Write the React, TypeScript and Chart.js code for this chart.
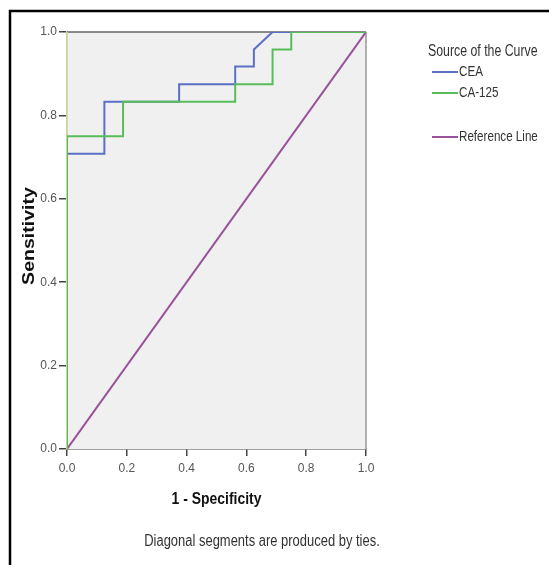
import React, { useEffect, useRef } from "react";
import { Chart, registerables } from "chart.js";

Chart.register(...registerables);

// ROC curve corner points (1 - Specificity, Sensitivity)
const ceaFpr = [0, 0, 0.125, 0.125, 0.375, 0.375, 0.5625, 0.5625, 0.625, 0.625, 0.6875, 1];
const ceaTpr = [0, 0.708, 0.708, 0.833, 0.833, 0.875, 0.875, 0.917, 0.917, 0.958, 1, 1];
const ca125Fpr = [0, 0, 0.1875, 0.1875, 0.5625, 0.5625, 0.6875, 0.6875, 0.75, 0.75, 1];
const ca125Tpr = [0, 0.75, 0.75, 0.833, 0.833, 0.875, 0.875, 0.958, 0.958, 1, 1];
const refFpr = [0, 1];
const refTpr = [0, 1];

const seriesLabels = ["CEA", "CA-125", "Reference Line"];
const legendTitle = "Source of the Curve";
const xTitle = "1 - Specificity";
const yTitle = "Sensitivity";
const footnote = "Diagonal segments are produced by ties.";

const SANS = "'Liberation Sans', Arial, sans-serif";

const toPts = (xs: number[], ys: number[]) => xs.map((x, i) => ({ x, y: ys[i] }));

function drawText(
  ctx: CanvasRenderingContext2D,
  text: string,
  x: number,
  y: number,
  font: string,
  color: string,
  align: CanvasTextAlign,
  sx: number,
  rot = 0
) {
  ctx.save();
  ctx.translate(x, y);
  if (rot) ctx.rotate(rot);
  ctx.scale(sx, 1);
  ctx.font = font;
  ctx.fillStyle = color;
  ctx.textAlign = align;
  ctx.textBaseline = "middle";
  ctx.fillText(text, 0, 0);
  ctx.restore();
}

const decorPlugin = {
  id: "decor",
  beforeDatasetsDraw(chart: any) {
    const { ctx, chartArea: a } = chart;
    ctx.save();
    ctx.fillStyle = "#f0f0f0";
    ctx.fillRect(a.left, a.top, a.right - a.left, a.bottom - a.top);
    ctx.lineWidth = 1.5;
    ctx.strokeStyle = "#666";
    ctx.beginPath();
    ctx.moveTo(a.left, a.top);
    ctx.lineTo(a.right, a.top);
    ctx.stroke();
    ctx.strokeStyle = "#999";
    ctx.beginPath();
    ctx.moveTo(a.right, a.top);
    ctx.lineTo(a.right, a.bottom);
    ctx.stroke();
    ctx.strokeStyle = "#c8d49a";
    ctx.beginPath();
    ctx.moveTo(a.left, a.top);
    ctx.lineTo(a.left, a.bottom);
    ctx.stroke();
    ctx.restore();
  },
  afterDraw(chart: any) {
    const { ctx, chartArea: a } = chart;
    ctx.save();
    // outer frame
    ctx.strokeStyle = "#000";
    ctx.lineWidth = 2.5;
    ctx.beginPath();
    ctx.moveTo(10, 565);
    ctx.lineTo(10, 11);
    ctx.lineTo(549, 11);
    ctx.stroke();
    ctx.restore();

    // axis titles
    drawText(ctx, xTitle, (a.left + a.right) / 2, 499, `bold 17px ${SANS}`, "#111", "center", 0.82);
    drawText(ctx, yTitle, 29, 236, `bold 17px ${SANS}`, "#111", "center", 1.15, -Math.PI / 2);

    // legend
    drawText(ctx, legendTitle, 428, 52, `16px ${SANS}`, "#333", "left", 0.77);
    const ys = [72, 93, 137];
    chart.data.datasets.forEach((ds: any, i: number) => {
      const y = ys[i];
      ctx.save();
      ctx.strokeStyle = ds.borderColor;
      ctx.lineWidth = 2;
      ctx.beginPath();
      ctx.moveTo(432, y);
      ctx.lineTo(458, y);
      ctx.stroke();
      ctx.restore();
      drawText(ctx, ds.label, 459, y, `14px ${SANS}`, "#333", "left", 0.83);
    });

    // footnote
    drawText(ctx, footnote, 262, 542, `16px ${SANS}`, "#333", "center", 0.81);
  },
};

export default function App() {
  const ref = useRef<HTMLCanvasElement | null>(null);
  useEffect(() => {
    if (!ref.current) return;
    const chart = new Chart(ref.current, {
      type: "line",
      data: {
        datasets: [
          {
            label: seriesLabels[0],
            data: toPts(ceaFpr, ceaTpr),
            borderColor: "#5b70c4",
            borderWidth: 2,
            pointRadius: 0,
            fill: false,
            tension: 0,
            order: 1,
          },
          {
            label: seriesLabels[1],
            data: toPts(ca125Fpr, ca125Tpr),
            borderColor: "#58bd58",
            borderWidth: 2,
            pointRadius: 0,
            fill: false,
            tension: 0,
            order: 0,
          },
          {
            label: seriesLabels[2],
            data: toPts(refFpr, refTpr),
            borderColor: "#9a519c",
            borderWidth: 2,
            pointRadius: 0,
            fill: false,
            tension: 0,
            order: 2,
          },
        ],
      },
      options: {
        responsive: false,
        animation: false,
        events: [],
        layout: { padding: { top: 32, right: 183, left: 0, bottom: 0 } },
        plugins: { legend: { display: false }, tooltip: { enabled: false } },
        scales: {
          x: {
            type: "linear",
            min: 0,
            max: 1,
            afterFit: (s: any) => {
              s.height = 116;
            },
            ticks: {
              stepSize: 0.2,
              callback: (v: any) => Number(v).toFixed(1),
              font: { family: SANS, size: 12 },
              color: "#555",
              padding: 5,
              maxRotation: 0,
            },
            grid: { drawOnChartArea: false, drawTicks: true, tickLength: 7, color: "#444", lineWidth: 1.5 },
            border: { display: true, color: "#444", width: 1.5 },
            title: { display: false, text: xTitle },
          },
          y: {
            type: "linear",
            min: 0,
            max: 1,
            afterFit: (s: any) => {
              s.width = 67;
            },
            ticks: {
              stepSize: 0.2,
              callback: (v: any) => Number(v).toFixed(1),
              font: { family: SANS, size: 12 },
              color: "#555",
              padding: 2,
            },
            grid: { drawOnChartArea: false, drawTicks: true, tickLength: 8, color: "#444", lineWidth: 1.5 },
            border: { display: true, color: "#c8d49a", width: 1.5 },
            title: { display: false, text: yTitle },
          },
        },
      },
      plugins: [decorPlugin],
    });
    return () => chart.destroy();
  }, []);
  return (
    <div style={{ position: "absolute", left: 0, top: 0, width: 549, height: 565, background: "#fff" }}>
      <canvas ref={ref} width={549} height={565} style={{ display: "block" }} />
    </div>
  );
}
